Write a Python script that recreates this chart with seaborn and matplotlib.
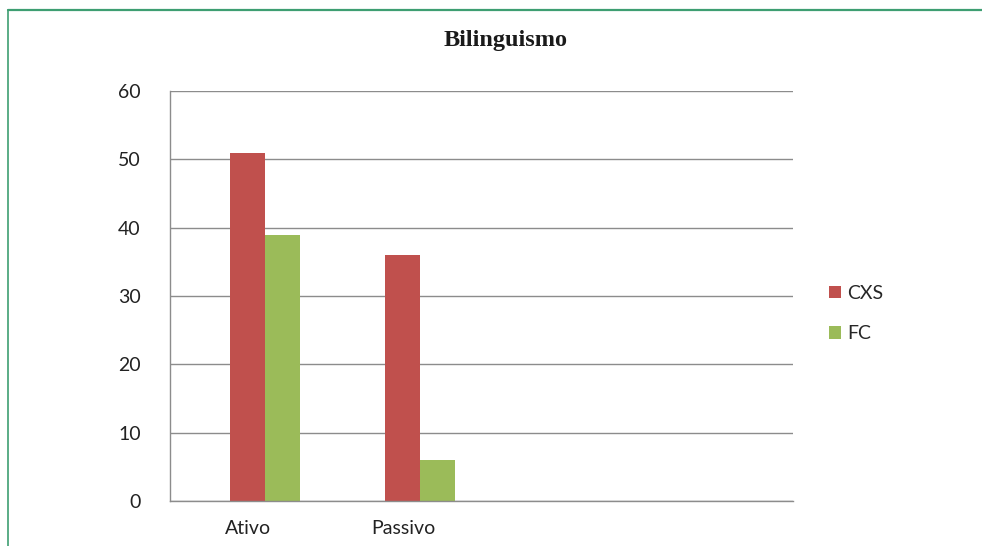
import matplotlib
matplotlib.use("Agg")
import matplotlib.pyplot as plt
import seaborn as sns
import pandas as pd
from matplotlib.lines import Line2D
from matplotlib.patches import Patch

categories = ["Ativo", "Passivo"]
series = ["CXS", "FC"]
cxs_values = [51, 36]
fc_values = [39, 6]
y_ticks = [0, 10, 20, 30, 40, 50, 60]
title = "Bilinguismo"

colors = {"CXS": "#C0504D", "FC": "#9BBB59"}

df = pd.DataFrame({
    "categoria": categories * 2,
    "serie": ["CXS"] * len(categories) + ["FC"] * len(categories),
    "valor": cxs_values + fc_values,
})

sns.set_theme(style="white")
plt.rcParams["font.family"] = ["Lato", "DejaVu Sans"]

fig = plt.figure(figsize=(9.82, 5.46), dpi=100)
ax = fig.add_axes([170 / 982, 45 / 546, 623 / 982, 410 / 546])

sns.barplot(data=df, x="categoria", y="valor", hue="serie", order=categories,
            hue_order=series, palette=colors, width=0.452, saturation=1,
            edgecolor="none", linewidth=0, legend=False, ax=ax)

# category spacing of 155 px, first group centred at x=265 px
unit = 155 / 1.0
ax.set_xlim(-(265 - 170) / unit, (793 - 265) / unit)
ax.set_ylim(0, 60)
ax.set_yticks(y_ticks)
ax.set_yticklabels([str(v) for v in y_ticks])
label_offset = -17 / unit
ax.set_xticks([i + label_offset for i in range(len(categories))])
ax.set_xticklabels(categories)
ax.set_xlabel("")
ax.set_ylabel("")
ax.yaxis.grid(True, color="#8C8C8C", linewidth=1)
ax.set_axisbelow(True)
for s in ["top", "right"]:
    ax.spines[s].set_visible(False)
for s in ["left", "bottom"]:
    ax.spines[s].set_color("#8C8C8C")
    ax.spines[s].set_linewidth(1)
ax.tick_params(axis="y", length=3, color="#8C8C8C", pad=18, labelsize=14, labelcolor="#222222")
ax.tick_params(axis="x", length=0, pad=14, labelsize=14, labelcolor="#222222")

handles = [Patch(facecolor=colors[s], edgecolor="none") for s in series]
fig.legend(handles, series, loc="center left", bbox_to_anchor=(829 / 982, 1 - 313.5 / 546),
           frameon=False, fontsize=14, handlelength=0.62, handleheight=0.62,
           handletextpad=0.3, labelspacing=1.2, borderpad=0, borderaxespad=0)

fig.text(506 / 982, 1 - 46 / 546, title, ha="center", va="baseline",
         fontsize=17.5, fontweight="bold", color="#1a1a1a",
         family=["Liberation Serif", "DejaVu Serif"])

border_color = "#3E9E72"
fig.add_artist(Line2D([8 / 982, 1.0], [1 - 10 / 546, 1 - 10 / 546], color=border_color,
                      linewidth=1.6, transform=fig.transFigure))
fig.add_artist(Line2D([8 / 982, 8 / 982], [0, 1 - 10 / 546], color=border_color,
                      linewidth=1.2, transform=fig.transFigure))

fig.savefig("out.png", dpi=100)
